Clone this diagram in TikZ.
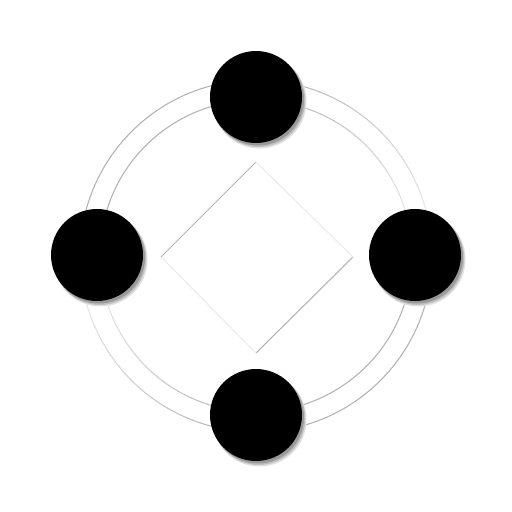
\documentclass[tikz,border=0pt]{standalone}
\begin{document}
\begin{tikzpicture}[x=0.02cm,y=0.02cm]
\tikzset{
  bubble/.style={circle, fill=black, draw=none, minimum size=1.84cm, inner sep=0pt},
  arcline/.style={line width=0.6pt},
  darkedge/.style={line width=0.6pt, draw=black!30},
  lightedge/.style={line width=0.6pt, draw=black!8},
}
\useasboundingbox[fill=white] (0,0) rectangle (512,512);
\coordinate (c) at (256,256);
% diamond
\coordinate (dt) at (256,350);
\coordinate (dr) at (353,255);
\coordinate (db) at (256,159);
\coordinate (dl) at (161,255);
\draw[darkedge] (dl) -- (dt);
\draw[darkedge] (dr) -- (db);
\draw[lightedge] (dt) -- (dr);
\draw[lightedge] (db) -- (dl);
% uniform arcs: top-left and bottom-right
\foreach \r in {176,156} {
  \draw[arcline, black!30] ([shift={(90:\r)}]c) arc[start angle=90, end angle=180, radius=\r];
  \draw[arcline, black!30] ([shift={(270:\r)}]c) arc[start angle=270, end angle=360, radius=\r];
}
% gradient arcs: top-right (top grey -> right light), bottom-left (bottom grey -> left light)
\foreach \r in {176,156} {
  \foreach \i in {0,...,29} {
    \pgfmathsetmacro\cc{30-24*\i/29}
    \pgfmathsetmacro\aa{90-3*\i}
    \pgfmathsetmacro\bb{90-3*\i-3.3}
    \draw[arcline, color=black!\cc] ([shift={(\aa:\r)}]c) arc[start angle=\aa, end angle=\bb, radius=\r];
    \pgfmathsetmacro\ab{270-3*\i}
    \pgfmathsetmacro\bc{270-3*\i-3.3}
    \draw[arcline, color=black!\cc] ([shift={(\ab:\r)}]c) arc[start angle=\ab, end angle=\bc, radius=\r];
  }
}
% shadows and nodes
\foreach \x/\y in {256/415, 97/257, 415/257, 256/97} {
  \fill[black!12] (\x+3.5,\y-4.5) circle (47);
  \fill[black!25] (\x+2.8,\y-3.5) circle (46.5);
  \fill[black!40] (\x+2,\y-2.5) circle (46);
}
\node[bubble] (top) at (256,415) {};
\node[bubble] (left) at (97,257) {};
\node[bubble] (right) at (415,257) {};
\node[bubble] (bottom) at (256,97) {};
\end{tikzpicture}
\end{document}
